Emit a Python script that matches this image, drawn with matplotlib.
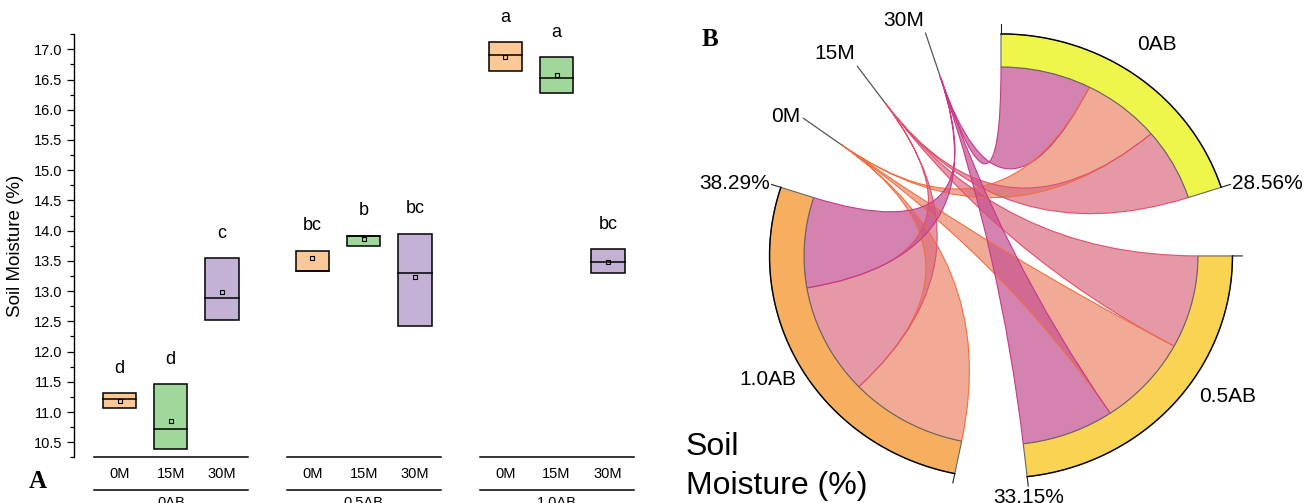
import numpy as np
import matplotlib
matplotlib.use("Agg")
import matplotlib.pyplot as plt
from matplotlib.patches import Rectangle, Wedge, PathPatch
from matplotlib.path import Path
from matplotlib.ticker import MultipleLocator
from matplotlib.transforms import blended_transform_factory
from matplotlib import font_manager as fm

# ---------------- data ----------------
groups = ["0AB", "0.5AB", "1.0AB"]
treatments = ["0M", "15M", "30M"]
box_top = [[11.31, 11.46, 13.54], [13.67, 13.92, 13.95], [17.12, 16.87, 13.69]]
box_bottom = [[11.06, 10.39, 12.53], [13.33, 13.75, 12.43], [16.64, 16.28, 13.30]]
box_median = [[11.21, 10.72, 12.88], [13.33, 13.91, 13.30], [16.91, 16.53, 13.49]]
box_mean = [[11.19, 10.85, 12.98], [13.55, 13.86, 13.23], [16.88, 16.57, 13.49]]
letters = [["d", "d", "c"], ["bc", "b", "bc"], ["a", "a", "bc"]]
yticks = [10.5, 11.0, 11.5, 12.0, 12.5, 13.0, 13.5, 14.0, 14.5, 15.0, 15.5, 16.0, 16.5, 17.0]

# ---------------- style ----------------
plt.rcParams["font.family"] = ["Liberation Sans", "DejaVu Sans"]
W, H = 1307, 503
fig = plt.figure(figsize=(W / 100, H / 100), dpi=100)

box_colors = ["#FBC897", "#A0D89B", "#C3B1D6"]
ring_colors = ["#EFF64B", "#FAD352", "#F8AE5F"]
chord_fill = ["#EA8669", "#DA6C80", "#C34F91"]
chord_edge = ["#F07040", "#E0506E", "#C8388C"]

try:
    fm.findfont(fm.FontProperties(family="Liberation Sans Narrow"), fallback_to_default=False)
    xfont = dict(family="Liberation Sans Narrow", fontsize=12)
except Exception:
    xfont = dict(family="Liberation Sans", fontsize=10.5)

# ---------------- panel A ----------------
slot_px = 51.3
x0_px = 119.5
axl, axr = 74, 650
ytop_px, ybot_px = 34.2, 457.4
ax = fig.add_axes([axl / W, 1 - ybot_px / H, (axr - axl) / W, (ybot_px - ytop_px) / H])
ax.set_xlim((axl - x0_px) / slot_px, (axr - x0_px) / slot_px)
ax.set_ylim(10.25, 17.25)
group_step = 3.76
bw = 0.65
trans = blended_transform_factory(ax.transData, fig.transFigure)
for g in range(len(groups)):
    xs = [g * group_step + m for m in range(len(treatments))]
    for m, x in enumerate(xs):
        b, t = box_bottom[g][m], box_top[g][m]
        ax.add_patch(Rectangle((x - bw / 2, b), bw, t - b, facecolor=box_colors[m],
                               edgecolor="black", lw=1.1, zorder=2))
        ax.plot([x - bw / 2, x + bw / 2], [box_median[g][m]] * 2, color="black", lw=1.1, zorder=3)
        ax.plot([x], [box_mean[g][m]], marker="s", ms=3.5, mfc="none", mec="black", mew=0.8, zorder=4)
        ax.annotate(letters[g][m], (x, t), xytext=(0, 18), textcoords="offset points",
                    ha="center", va="center", fontsize=13)
        ax.text(x, 1 - 474 / H, treatments[m], transform=trans, ha="center", va="center", **xfont)
    xa, xb = xs[0] - 0.5, xs[-1] + 0.5
    for yy in (1 - ybot_px / H, 1 - 490 / H):
        ax.plot([xa, xb], [yy, yy], transform=trans, color="black", lw=1.1, clip_on=False)
    ax.text((xa + xb) / 2, 1 - 496 / H, groups[g], transform=trans, ha="center", va="top", **xfont)

ax.set_yticks(yticks)
ax.yaxis.set_minor_locator(MultipleLocator(0.25))
ax.tick_params(axis="y", which="major", direction="out", length=5, width=0.9, labelsize=10.5)
ax.tick_params(axis="y", which="minor", direction="out", length=3, width=0.9)
ax.set_xticks([])
for s in ["top", "right", "bottom"]:
    ax.spines[s].set_visible(False)
ax.spines["left"].set_linewidth(1.0)
ax.set_ylabel("Soil Moisture (%)", fontsize=13.5, labelpad=7)
fig.text(38 / W, 1 - 482 / H, "A", family="Liberation Serif", weight="bold", fontsize=18,
         ha="center", va="center")

# ---------------- panel B (chord diagram) ----------------
cx, cy = 1001, 256
rx, ry = 197, 189
bx = fig.add_axes([660 / W, 0, (W - 660) / W, 1])
bx.set_xlim((660 - cx) / rx, (W - cx) / rx)
bx.set_ylim(-(H - cy) / ry, cy / ry)
bx.axis("off")

gap = 18.0
r_in, r_out = 1.0, 1.175
values = np.array(box_mean)  # rows: AB groups, cols: M treatments
total = values.sum()
dpu = (360 - 6 * gap) / total

def pol(a, r=1.0):
    t = np.radians(a)
    return r * np.cos(t), r * np.sin(t)

def align(a):
    c, s = np.cos(np.radians(a)), np.sin(np.radians(a))
    ha = "right" if c < -0.25 else ("left" if c > 0.5 else "center")
    va = "bottom" if s > 0.7 else ("top" if s < -0.7 else "center")
    return ha, va

ang = 90.0
sector_ranges = []
for g in range(len(groups)):
    span = values[g].sum() * dpu
    sector_ranges.append((ang, ang - span))
    ang -= span + gap
m_angles = []
for m in range(len(treatments)):
    m_angles.append(ang)
    ang -= gap

label_offsets = [(0.6, 1.37), (9.0, 1.37), (-1.3, 1.35)]
for g, (a1, a2) in enumerate(sector_ranges):
    bx.add_patch(Wedge((0, 0), r_out, a2, a1, width=r_out - r_in, facecolor=ring_colors[g],
                       edgecolor="#666666", lw=0.8, zorder=3))
    tt = np.linspace(a1, a2, 200)
    ox, oy = pol(tt, r_out)
    bx.plot(ox, oy, color="black", lw=1.0, zorder=4)
    for a in (a1, a2):
        p1, p2 = pol(a, r_out), pol(a, 1.225)
        bx.plot([p1[0], p2[0]], [p1[1], p2[1]], color="#222222", lw=0.8, zorder=4)
    pct = "%.2f%%" % (100 * values[g].sum() / total)
    ha, va = align(a2)
    px, py = pol(a2, 1.235)
    bx.text(px, py, pct, ha=ha, va=va, fontsize=15, zorder=5)
    mid = (a1 + a2) / 2 + label_offsets[g][0]
    lx, ly = pol(mid, label_offsets[g][1])
    bx.text(lx, ly, groups[g], ha="center", va="center", fontsize=15)

    # chords, ordered by descending value within the sector
    order = np.argsort(-values[g])
    a = a1
    for m in order:
        b = a - values[g][m] * dpu
        P = pol(m_angles[m])
        tt = np.linspace(a, b, 80)
        ax_, ay_ = pol(tt)
        verts = [P, (0, 0), (ax_[0], ay_[0])]
        codes = [Path.MOVETO, Path.CURVE3, Path.CURVE3]
        for x_, y_ in zip(ax_[1:], ay_[1:]):
            verts.append((x_, y_))
            codes.append(Path.LINETO)
        verts += [(0, 0), P, P]
        codes += [Path.CURVE3, Path.CURVE3, Path.CLOSEPOLY]
        bx.add_patch(PathPatch(Path(verts, codes), facecolor=chord_fill[m], alpha=0.7,
                               edgecolor="none", zorder=2))
        bx.add_patch(PathPatch(Path(verts, codes), facecolor="none", edgecolor=chord_edge[m],
                               lw=0.8, zorder=2.5))
        a = b

for m, a in enumerate(m_angles):
    p1, p2 = pol(a, 1.0), pol(a, 1.24)
    bx.plot([p1[0], p2[0]], [p1[1], p2[1]], color="#555555", lw=0.9, zorder=1)
    ha, va = align(a)
    px, py = pol(a, 1.26)
    bx.text(px, py, treatments[m], ha=ha, va=va, fontsize=15)

fig.text(686 / W, 1 - 432 / H, "Soil\nMoisture (%)", fontsize=23, ha="left", va="top",
         linespacing=1.38)
fig.text(710 / W, 1 - 40 / H, "B", family="Liberation Serif", weight="bold", fontsize=18,
         ha="center", va="center")

fig.savefig("out.png", dpi=100)
